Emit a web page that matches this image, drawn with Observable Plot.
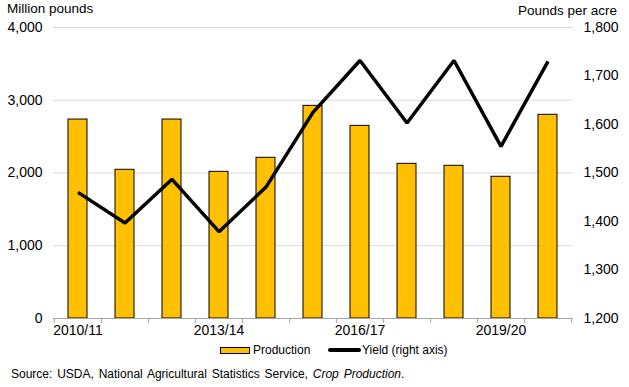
<!DOCTYPE html>
<html><head><meta charset="utf-8">
<script src="https://cdn.jsdelivr.net/npm/d3@7"></script>
<script src="https://cdn.jsdelivr.net/npm/@observablehq/plot@0.6"></script>
<style>
body{margin:0;background:#fff;font-family:"Liberation Sans",Arial,sans-serif;}
#wrap{position:relative;width:629px;height:387px;overflow:hidden;}
#wrap svg{position:absolute;left:0;top:0;}
.abs{position:absolute;white-space:nowrap;color:#000;}
</style></head><body><div id="wrap"></div>
<script>
const years = ["2010/11","2011/12","2012/13","2013/14","2014/15","2015/16","2016/17","2017/18","2018/19","2019/20","2020/21"];
const production = [2735, 2044, 2735, 2016, 2209, 2923, 2648, 2126, 2099, 1948, 2800];
const yieldLbs = [1460, 1397, 1487, 1379, 1471, 1625, 1732, 1603, 1732, 1555, 1730];
const leftTicks = [0, 1000, 2000, 3000, 4000];
const rightTicks = [1200, 1300, 1400, 1500, 1600, 1700, 1800];
const xLabels = ["2010/11", "2013/14", "2016/17", "2019/20"];

const leftMax = 4000, rightMin = 1200, rightMax = 1800;
const toLeft = v => (v - rightMin) / (rightMax - rightMin) * leftMax;
const toRight = v => rightMin + v / leftMax * (rightMax - rightMin);

const W = 629, H = 387, mL = 53, mR = 56, mT = 27, mB = 69;
const step = (W - mL - mR) / years.length;
const data = years.map((y, i) => ({year: y, production: production[i], yScaled: toLeft(yieldLbs[i])}));
const fmt = d3.format(",");

const chart = Plot.plot({
  width: W, height: H, marginLeft: mL, marginRight: mR, marginTop: mT, marginBottom: mB,
  style: {fontFamily: "'Liberation Sans', Arial, sans-serif", fontSize: "14px", color: "#000", background: "white", overflow: "visible"},
  x: {type: "band", domain: years, paddingInner: 0.59, paddingOuter: 0.295, align: 0.5},
  y: {domain: [0, leftMax]},
  marks: [
    Plot.gridY(leftTicks.slice(1), {stroke: "#d9d9d9", strokeOpacity: 1, strokeWidth: 1}),
    Plot.barY(data, {x: "year", y: "production", fill: "#FFC000", stroke: "#000", strokeWidth: 1}),
    Plot.ruleY([0], {stroke: "#a6a6a6", strokeWidth: 1}),
    Plot.axisX(years, {tickSize: 5, dx: step / 2, tickFormat: () => "", stroke: "#a6a6a6", label: null}),
    Plot.axisX([years[0]], {tickSize: 5, dx: -step / 2, tickFormat: () => "", stroke: "#a6a6a6", label: null}),
    Plot.axisX(xLabels, {tickSize: 0, tickPadding: 7, fontSize: 14, label: null}),
    Plot.axisY(leftTicks, {anchor: "left", tickSize: 0, tickPadding: 11, tickFormat: fmt, fontSize: 14, label: null}),
    Plot.axisY(rightTicks.map(toLeft), {anchor: "right", tickSize: 0, tickPadding: 10, tickFormat: d => fmt(Math.round(toRight(d))), fontSize: 14, label: null}),
    Plot.line(data, {x: "year", y: "yScaled", stroke: "#000", strokeWidth: 3.5, strokeLinejoin: "miter", strokeLinecap: "butt"})
  ]
});
const wrap = document.getElementById("wrap");
wrap.appendChild(chart);

function addText(txt, css, html) {
  const d = document.createElement("div");
  d.className = "abs";
  if (html) d.innerHTML = txt; else d.textContent = txt;
  Object.assign(d.style, css);
  wrap.appendChild(d);
  return d;
}
addText("Million pounds", {left: "7px", top: "2px", fontSize: "13.5px", lineHeight: "13.5px"});
addText("Pounds per acre", {right: "12px", top: "4px", fontSize: "13.5px", lineHeight: "13.5px"});

// legend
const sw = document.createElement("div");
Object.assign(sw.style, {position: "absolute", left: "220px", top: "347px", width: "28px", height: "5px", background: "#FFC000", border: "1px solid #000"});
wrap.appendChild(sw);
addText("Production", {left: "253px", top: "344px", fontSize: "12px", lineHeight: "12px"});
const ln = document.createElement("div");
Object.assign(ln.style, {position: "absolute", left: "328px", top: "348px", width: "33px", height: "4px", background: "#000", borderRadius: "2px"});
wrap.appendChild(ln);
addText("Yield (right axis)", {left: "362px", top: "344px", fontSize: "12px", lineHeight: "12px"});

addText("Source: USDA, National Agricultural Statistics Service, <i>Crop Production</i>.", {left: "11px", top: "368px", fontSize: "12px", lineHeight: "12px", wordSpacing: "1.5px"}, true);
</script></body></html>
